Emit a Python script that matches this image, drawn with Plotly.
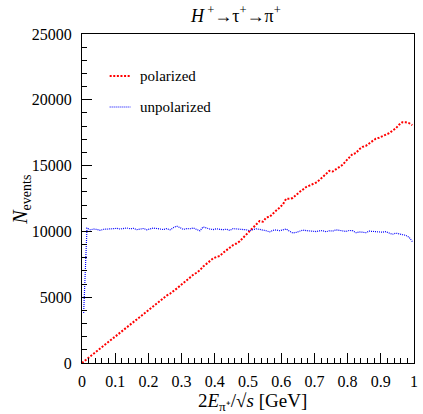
import plotly.graph_objects as go

# bin centers (100 bins on [0,1])
x_bins = [round(0.005 + 0.01 * i, 3) for i in range(100)]

polarized = [
    100, 300, 500, 690, 900, 1110, 1290, 1500, 1720, 1900,
    2110, 2290, 2520, 2700, 2930, 3140, 3320, 3490, 3710, 3920,
    4110, 4300, 4540, 4710, 4930, 5120, 5260, 5430, 5650, 5860,
    6080, 6310, 6520, 6700, 6860, 7050, 7330, 7520, 7760, 7950,
    8060, 8130, 8370, 8560, 8780, 8960, 9080, 9250, 9510, 9770,
    9960, 10250, 10530, 10790, 10740, 11060, 11100, 11370, 11590, 11800,
    12050, 12480, 12480, 12540, 12800, 12990, 13170, 13370, 13480, 13580,
    13710, 13900, 14160, 14410, 14600, 14550, 14700, 14850, 15060, 15350,
    15600, 15880, 15950, 16240, 16420, 16500, 16680, 16900, 17050, 17120,
    17230, 17320, 17460, 17650, 17830, 18100, 18300, 18290, 18230, 18080,
]

unpolarized = [
    3800, 10250, 10120, 10180, 10150, 10080, 10160, 10200, 10190, 10210,
    10230, 10180, 10240, 10260, 10200, 10230, 10130, 10170, 10220, 10120,
    10200, 10250, 10220, 10180, 10140, 10210, 10120, 10280, 10400, 10290,
    10150, 10210, 10200, 10260, 10150, 10050, 10340, 10250, 10180, 10140,
    10200, 10160, 10130, 10170, 10080, 10210, 10200, 10150, 10180, 10120,
    10060, 10120, 10200, 10150, 10110, 10050, 9960, 10080, 10110, 10050,
    10120, 10180, 10020, 9880, 9920, 10010, 10100, 10060, 10050, 10030,
    9990, 10040, 10060, 9970, 10050, 10020, 10120, 10080, 10060, 10000,
    10070, 10060, 9900, 9960, 9940, 9900, 10020, 9990, 9960, 9970,
    9940, 9980, 9870, 9780, 9870, 9830, 9760, 9700, 9560, 9230,
]

series_names = ["polarized", "unpolarized"]
y_ticks = [0, 5000, 10000, 15000, 20000, 25000]
y_tick_text = ["0", "5000", "10000", "15000", "20000", "25000"]
x_ticks = [0, 0.1, 0.2, 0.3, 0.4, 0.5, 0.6, 0.7, 0.8, 0.9, 1]
x_tick_text = ["0", "0.1", "0.2", "0.3", "0.4", "0.5", "0.6", "0.7", "0.8", "0.9", "1"]

RED = "rgb(255,0,0)"
BLUE = "rgb(0,0,255)"
FONT = "Liberation Serif"

fig = go.Figure()
fig.add_trace(go.Scatter(x=[0] + x_bins, y=[0] + polarized, mode="lines",
                         name=series_names[0],
                         line=dict(color=RED, width=2, dash="2px,1.6px"),
                         showlegend=False))
fig.add_trace(go.Scatter(x=x_bins, y=unpolarized, mode="lines",
                         name=series_names[1],
                         line=dict(color=BLUE, width=1.2, dash="1px,1px"),
                         showlegend=False))

axis_common = dict(
    showgrid=False, zeroline=False, showline=True, linecolor="black",
    linewidth=1, mirror=True, ticks="inside", tickcolor="black",
    tickfont=dict(family=FONT, size=16, color="black"),
)

fig.update_xaxes(range=[0, 1], tickvals=x_ticks, ticktext=x_tick_text,
                 ticklen=10, tickwidth=1,
                 minor=dict(ticks="inside", ticklen=5, dtick=0.02,
                            tickcolor="black", tickwidth=1),
                 ticklabelstandoff=4, **axis_common)
fig.update_yaxes(range=[0, 25000], tickvals=y_ticks, ticktext=y_tick_text,
                 ticklen=10, tickwidth=1,
                 minor=dict(ticks="inside", ticklen=5, dtick=1000,
                            tickcolor="black", tickwidth=1),
                 ticklabelstandoff=6, **axis_common)

W, H = 423, 414
L, R, T, B = 82, 5, 34, 51
pw, ph = W - L - R, H - T - B

def px(xp):
    return (xp - L) / pw

def py(yp):
    return (H - B - yp) / ph

annotations = [
    dict(text="<i>H</i><sup> +</sup>→τ<sup>+</sup>→π<sup>+</sup>",
         x=px(237), y=py(14), xref="paper", yref="paper",
         xanchor="center", yanchor="middle",
         showarrow=False, font=dict(family=FONT, size=18, color="black")),
    dict(text="<i>N</i><sub>events</sub>", x=px(20), y=py(200),
         xref="paper", yref="paper", textangle=-90, showarrow=False,
         xanchor="center", yanchor="middle",
         font=dict(family=FONT, size=20, color="black")),
    dict(text="2<i>E</i><sub>π⁺</sub>/√<i>s</i> [GeV]", x=px(255), y=py(402),
         xref="paper", yref="paper", showarrow=False,
         xanchor="center", yanchor="middle",
         font=dict(family=FONT, size=19, color="black")),
    dict(text=series_names[0], x=px(139), y=py(76), xref="paper", yref="paper",
         xanchor="left", yanchor="middle", showarrow=False,
         font=dict(family=FONT, size=15, color="black")),
    dict(text=series_names[1], x=px(139), y=py(107), xref="paper", yref="paper",
         xanchor="left", yanchor="middle", showarrow=False,
         font=dict(family=FONT, size=15, color="black")),
]

shapes = [
    dict(type="line", xref="paper", yref="paper", x0=px(110), x1=px(131),
         y0=py(76), y1=py(76), line=dict(color=RED, width=2, dash="2px,1.6px")),
    dict(type="line", xref="paper", yref="paper", x0=px(110), x1=px(131),
         y0=py(107), y1=py(107), line=dict(color=BLUE, width=1.2, dash="1px,1px")),
]

fig.update_layout(
    width=W, height=H,
    margin=dict(l=L, r=R, t=T, b=B),
    paper_bgcolor="white", plot_bgcolor="white",
    annotations=annotations, shapes=shapes,
    showlegend=False,
)

fig.write_html("out.html", config={"displayModeBar": False},
               post_script="document.body.style.margin='0';document.body.style.overflow='hidden';")
